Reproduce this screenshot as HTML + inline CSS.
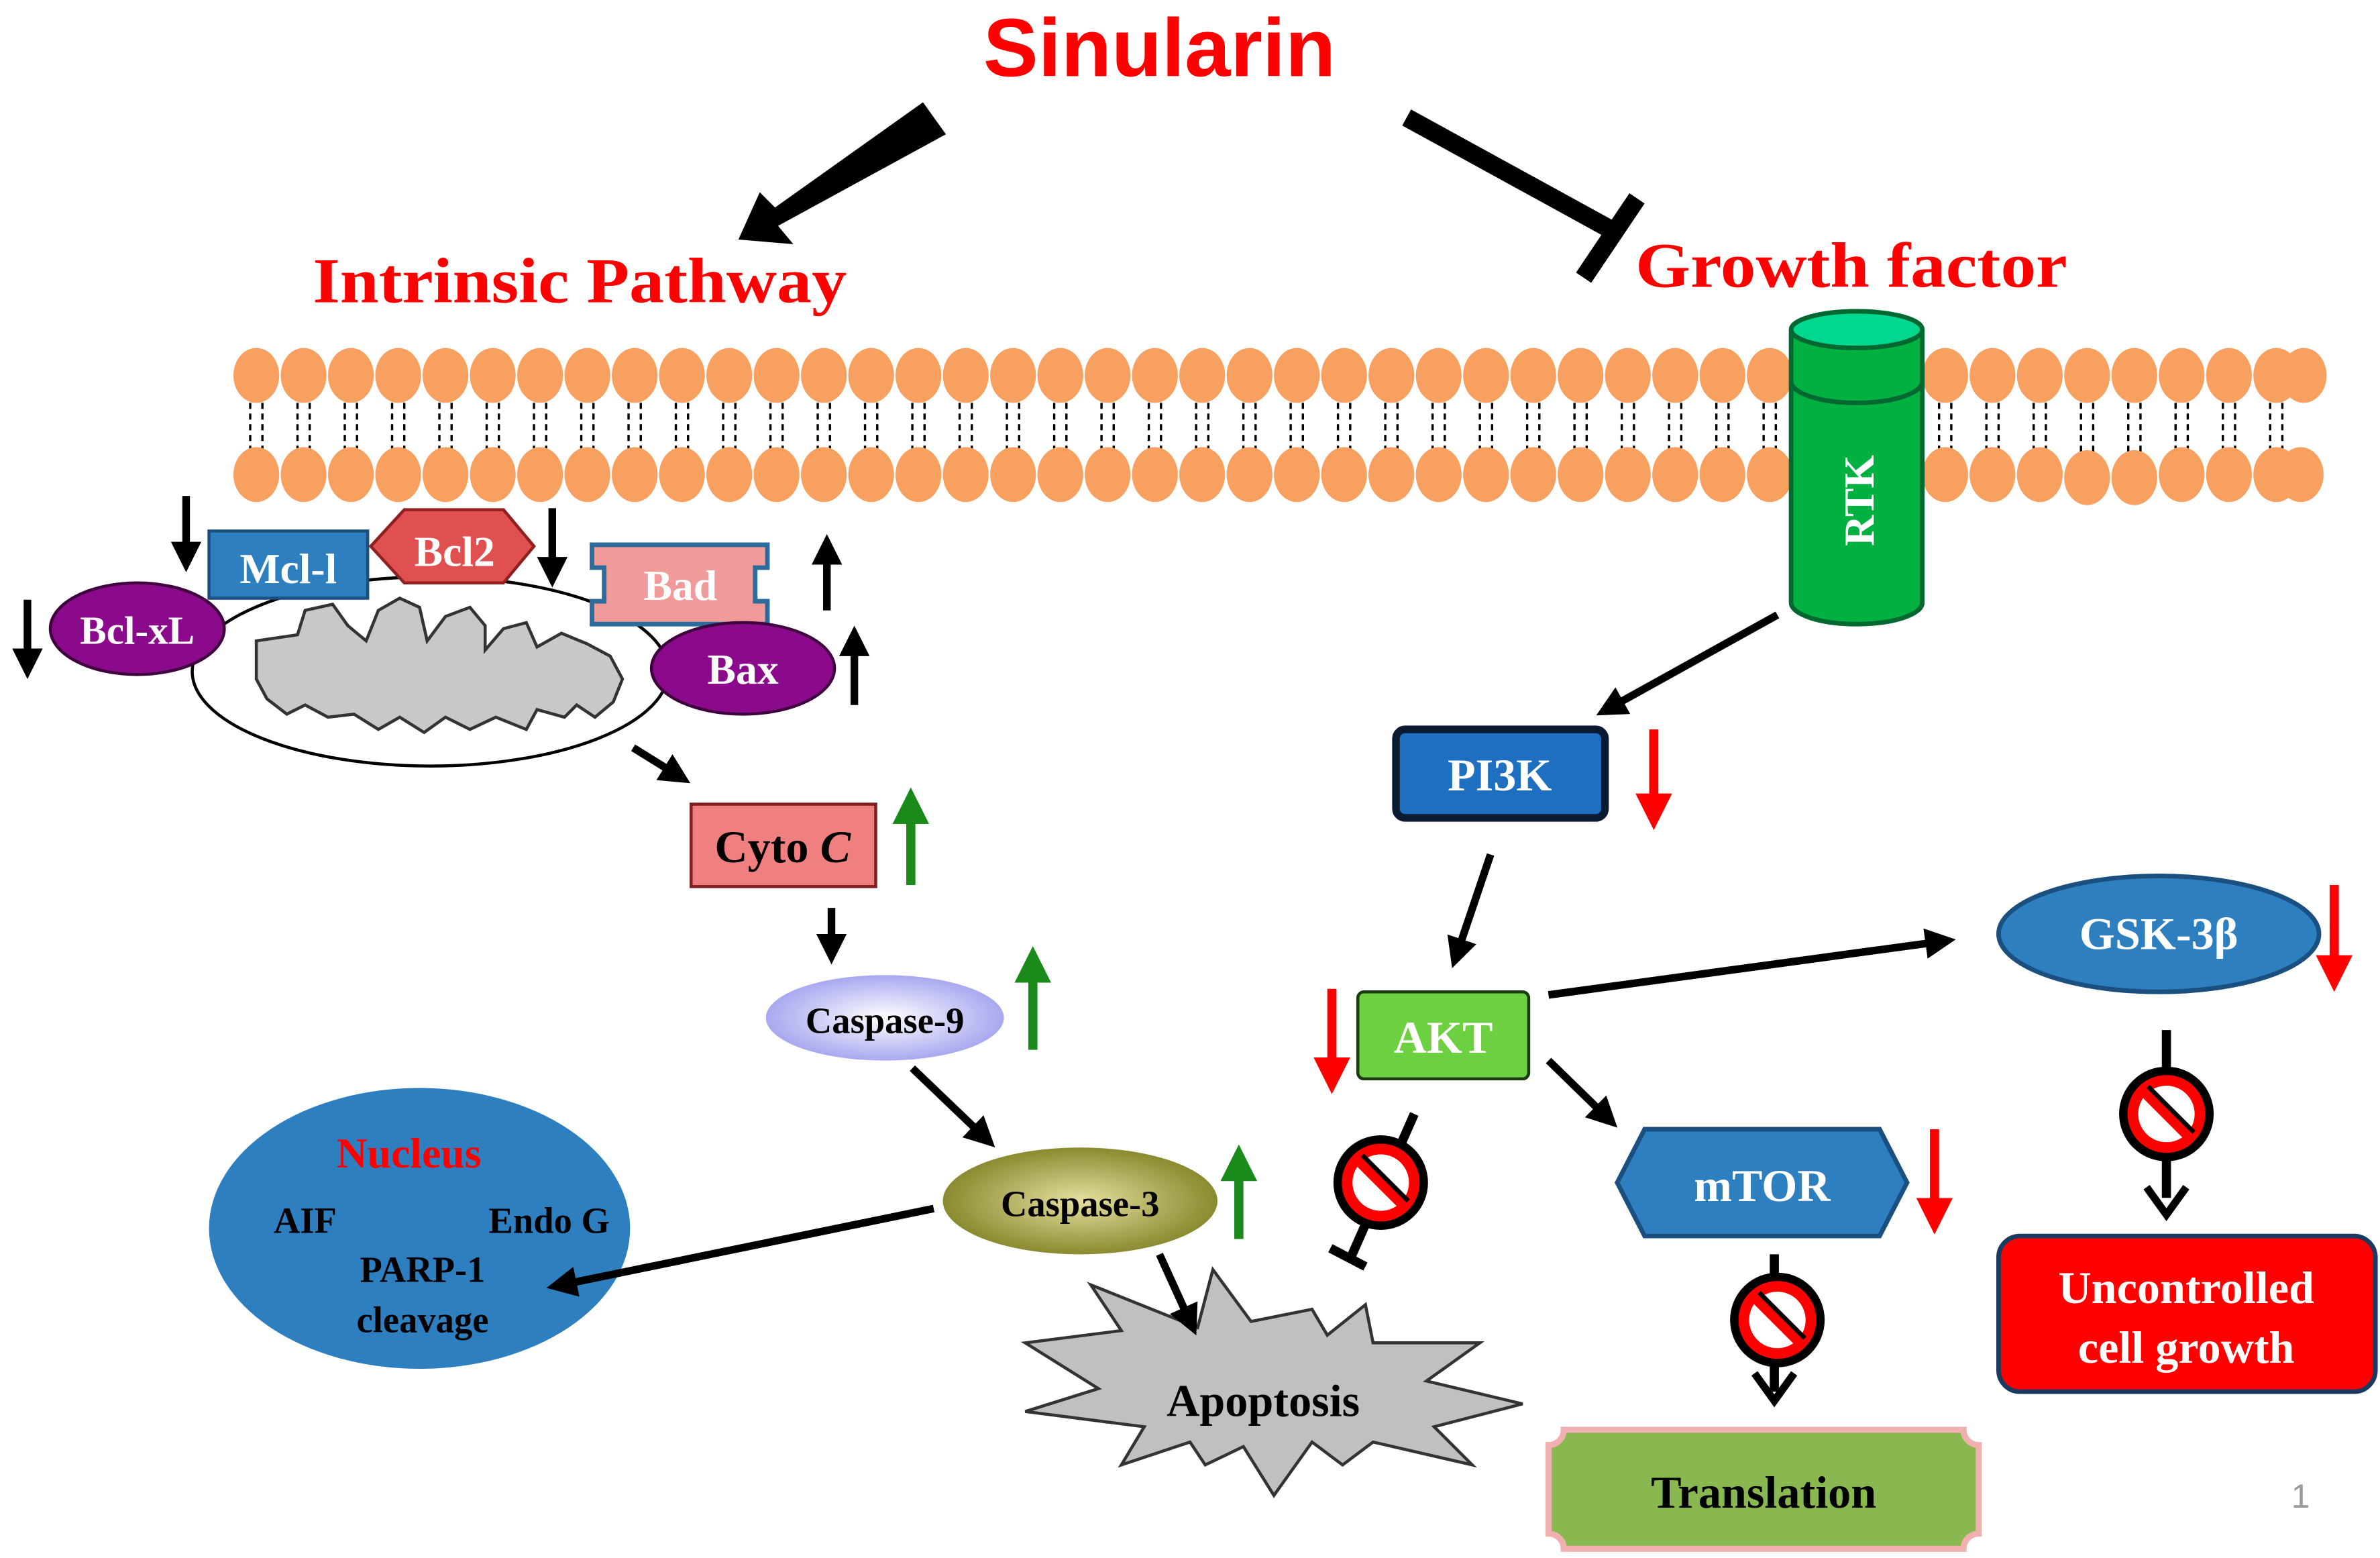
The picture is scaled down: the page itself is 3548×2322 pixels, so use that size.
<!DOCTYPE html>
<html><head><meta charset="utf-8"><style>
html,body{margin:0;padding:0;background:#fff;}
svg{display:block;}
.s{font-family:"Liberation Sans",sans-serif;font-weight:bold;}
.r{font-family:"Liberation Serif",serif;font-weight:bold;}
</style></head><body>
<svg width="3548" height="2322" viewBox="0 0 1560 1021" preserveAspectRatio="none" xmlns="http://www.w3.org/2000/svg">
<defs>
<marker id="af" markerWidth="4" markerHeight="4" refX="2" refY="2" orient="auto" markerUnits="strokeWidth"><path d="M0,0 L4,2 L0,4 z" fill="#000"/></marker>
<marker id="ag" markerWidth="4" markerHeight="4" refX="2" refY="2" orient="auto" markerUnits="strokeWidth"><path d="M0,0 L4,2 L0,4 z" fill="#1a8a1a"/></marker>
<marker id="ar" markerWidth="4" markerHeight="4" refX="2" refY="2" orient="auto" markerUnits="strokeWidth"><path d="M0,0 L4,2 L0,4 z" fill="#f00"/></marker>
<radialGradient id="c9"><stop offset="0" stop-color="#fff"/><stop offset="1" stop-color="#a8a8f0"/></radialGradient>
<radialGradient id="c3"><stop offset="0" stop-color="#e6e0a0"/><stop offset="1" stop-color="#8a8a30"/></radialGradient>
</defs>

<text x="760" y="50" text-anchor="middle" class="s" font-size="54" fill="#f00">Sinularin</text>
<polygon points="605,67 620,88 510,148 520,160 484,157 498,126 508,136" fill="#000"/>
<line x1="922" y1="77" x2="1055" y2="150" stroke="#000" stroke-width="12"/>
<line x1="1038" y1="182" x2="1073" y2="130" stroke="#000" stroke-width="12"/>
<text x="205" y="198" class="r" font-size="42" fill="#f00" textLength="350" lengthAdjust="spacingAndGlyphs">Intrinsic Pathway</text>
<text x="1072" y="188" class="r" font-size="42" fill="#f00" textLength="283" lengthAdjust="spacingAndGlyphs">Growth factor</text>

<g stroke="#000" stroke-width="1.5" stroke-dasharray="4,3">
<path d="M164,264 V296 M172,264 V296 M195,264 V296 M203,264 V296 M226,264 V296 M234,264 V296 M257,264 V296 M265,264 V296 M288,264 V296 M296,264 V296 M319,264 V296 M327,264 V296 M350,264 V296 M358,264 V296 M381,264 V296 M389,264 V296 M412,264 V296 M420,264 V296 M443,264 V296 M451,264 V296 M474,264 V296 M482,264 V296 M505,264 V296 M513,264 V296 M536,264 V296 M544,264 V296 M567,264 V296 M575,264 V296 M598,264 V296 M606,264 V296 M629,264 V296 M637,264 V296 M660,264 V296 M668,264 V296 M691,264 V296 M699,264 V296 M722,264 V296 M730,264 V296 M753,264 V296 M761,264 V296 M784,264 V296 M792,264 V296 M815,264 V296 M823,264 V296 M846,264 V296 M854,264 V296 M877,264 V296 M885,264 V296 M908,264 V296 M916,264 V296 M939,264 V296 M947,264 V296 M970,264 V296 M978,264 V296 M1001,264 V296 M1009,264 V296 M1032,264 V296 M1040,264 V296 M1063,264 V296 M1071,264 V296 M1094,264 V296 M1102,264 V296 M1125,264 V296 M1133,264 V296 M1156,264 V296 M1164,264 V296 M1271,264 V296 M1279,264 V296 M1302,264 V296 M1310,264 V296 M1333,264 V296 M1341,264 V296 M1364,264 V296 M1372,264 V296 M1395,264 V296 M1403,264 V296 M1426,264 V296 M1434,264 V296 M1457,264 V296 M1465,264 V296 M1488,264 V296 M1496,264 V296"/>
</g>
<g fill="#f8a060">
<ellipse cx="168" cy="246" rx="15" ry="18"/><ellipse cx="199" cy="246" rx="15" ry="18"/><ellipse cx="230" cy="246" rx="15" ry="18"/><ellipse cx="261" cy="246" rx="15" ry="18"/><ellipse cx="292" cy="246" rx="15" ry="18"/><ellipse cx="323" cy="246" rx="15" ry="18"/><ellipse cx="354" cy="246" rx="15" ry="18"/><ellipse cx="385" cy="246" rx="15" ry="18"/><ellipse cx="416" cy="246" rx="15" ry="18"/><ellipse cx="447" cy="246" rx="15" ry="18"/><ellipse cx="478" cy="246" rx="15" ry="18"/><ellipse cx="509" cy="246" rx="15" ry="18"/><ellipse cx="540" cy="246" rx="15" ry="18"/><ellipse cx="571" cy="246" rx="15" ry="18"/><ellipse cx="602" cy="246" rx="15" ry="18"/><ellipse cx="633" cy="246" rx="15" ry="18"/><ellipse cx="664" cy="246" rx="15" ry="18"/><ellipse cx="695" cy="246" rx="15" ry="18"/><ellipse cx="726" cy="246" rx="15" ry="18"/><ellipse cx="757" cy="246" rx="15" ry="18"/><ellipse cx="788" cy="246" rx="15" ry="18"/><ellipse cx="819" cy="246" rx="15" ry="18"/><ellipse cx="850" cy="246" rx="15" ry="18"/><ellipse cx="881" cy="246" rx="15" ry="18"/><ellipse cx="912" cy="246" rx="15" ry="18"/><ellipse cx="943" cy="246" rx="15" ry="18"/><ellipse cx="974" cy="246" rx="15" ry="18"/><ellipse cx="1005" cy="246" rx="15" ry="18"/><ellipse cx="1036" cy="246" rx="15" ry="18"/><ellipse cx="1067" cy="246" rx="15" ry="18"/><ellipse cx="1098" cy="246" rx="15" ry="18"/><ellipse cx="1129" cy="246" rx="15" ry="18"/><ellipse cx="1160" cy="246" rx="15" ry="18"/><ellipse cx="1275" cy="246" rx="15" ry="18"/><ellipse cx="1306" cy="246" rx="15" ry="18"/><ellipse cx="1337" cy="246" rx="15" ry="18"/><ellipse cx="1368" cy="246" rx="15" ry="18"/><ellipse cx="1399" cy="246" rx="15" ry="18"/><ellipse cx="1430" cy="246" rx="15" ry="18"/><ellipse cx="1461" cy="246" rx="15" ry="18"/><ellipse cx="1492" cy="246" rx="15" ry="18"/><ellipse cx="1510" cy="246" rx="15" ry="18"/>
<ellipse cx="168" cy="311" rx="15" ry="18"/><ellipse cx="199" cy="311" rx="15" ry="18"/><ellipse cx="230" cy="311" rx="15" ry="18"/><ellipse cx="261" cy="311" rx="15" ry="18"/><ellipse cx="292" cy="311" rx="15" ry="18"/><ellipse cx="323" cy="311" rx="15" ry="18"/><ellipse cx="354" cy="311" rx="15" ry="18"/><ellipse cx="385" cy="311" rx="15" ry="18"/><ellipse cx="416" cy="311" rx="15" ry="18"/><ellipse cx="447" cy="311" rx="15" ry="18"/><ellipse cx="478" cy="311" rx="15" ry="18"/><ellipse cx="509" cy="311" rx="15" ry="18"/><ellipse cx="540" cy="311" rx="15" ry="18"/><ellipse cx="571" cy="311" rx="15" ry="18"/><ellipse cx="602" cy="311" rx="15" ry="18"/><ellipse cx="633" cy="311" rx="15" ry="18"/><ellipse cx="664" cy="311" rx="15" ry="18"/><ellipse cx="695" cy="311" rx="15" ry="18"/><ellipse cx="726" cy="311" rx="15" ry="18"/><ellipse cx="757" cy="311" rx="15" ry="18"/><ellipse cx="788" cy="311" rx="15" ry="18"/><ellipse cx="819" cy="311" rx="15" ry="18"/><ellipse cx="850" cy="311" rx="15" ry="18"/><ellipse cx="881" cy="311" rx="15" ry="18"/><ellipse cx="912" cy="311" rx="15" ry="18"/><ellipse cx="943" cy="311" rx="15" ry="18"/><ellipse cx="974" cy="311" rx="15" ry="18"/><ellipse cx="1005" cy="311" rx="15" ry="18"/><ellipse cx="1036" cy="311" rx="15" ry="18"/><ellipse cx="1067" cy="311" rx="15" ry="18"/><ellipse cx="1098" cy="311" rx="15" ry="18"/><ellipse cx="1129" cy="311" rx="15" ry="18"/><ellipse cx="1160" cy="311" rx="15" ry="18"/><ellipse cx="1275" cy="311" rx="15" ry="18"/><ellipse cx="1306" cy="311" rx="15" ry="18"/><ellipse cx="1337" cy="311" rx="15" ry="18"/><ellipse cx="1368" cy="313" rx="15" ry="18"/><ellipse cx="1399" cy="313" rx="15" ry="18"/><ellipse cx="1430" cy="311" rx="15" ry="18"/><ellipse cx="1461" cy="311" rx="15" ry="18"/><ellipse cx="1492" cy="311" rx="15" ry="18"/><ellipse cx="1508" cy="311" rx="15" ry="18"/>
</g>

<path d="M1174,216 V395 A43,14 0 0 0 1260,395 V216" fill="#00b040" stroke="#006830" stroke-width="3"/>
<path d="M1174,250 A43,14 0 0 0 1260,250" fill="none" stroke="#006830" stroke-width="3"/>
<ellipse cx="1217" cy="216" rx="43" ry="12" fill="#00d890" stroke="#006830" stroke-width="3"/>
<text transform="translate(1228,328) rotate(-90)" text-anchor="middle" class="r" font-size="28" fill="#fff">RTK</text>

<ellipse cx="282" cy="440" rx="156" ry="62" fill="#fff" stroke="#000" stroke-width="2"/>
<path d="M168,420 L195,416 L200,400 L218,396 L228,410 L240,420 L248,400 L262,392 L275,398 L280,420 L292,404 L308,398 L318,410 L318,426 L330,412 L345,408 L352,424 L368,415 L385,422 L400,430 L408,445 L402,460 L390,470 L378,462 L370,470 L352,465 L345,478 L325,470 L308,478 L292,470 L278,480 L262,470 L248,478 L232,468 L215,470 L200,462 L188,468 L175,458 L168,445 Z" fill="#c8c8c8" stroke="#333" stroke-width="2"/>

<rect x="137" y="348" width="104" height="44" fill="#2e7fc0" stroke="#1a4f80" stroke-width="2"/>
<text x="189" y="382" text-anchor="middle" class="r" font-size="28" fill="#fff">Mcl-l</text>
<polygon points="243,358 265,334 330,334 350,358 330,382 265,382" fill="#e05050" stroke="#902020" stroke-width="2"/>
<text x="298" y="371" text-anchor="middle" class="r" font-size="28" fill="#fff">Bcl2</text>
<path d="M388,357 H503 V372 H495 V394 H503 V409 H388 V394 H396 V372 H388 Z" fill="#f09a9a" stroke="#2b6c9c" stroke-width="3"/>
<text x="446" y="393" text-anchor="middle" class="r" font-size="28" fill="#fff">Bad</text>
<ellipse cx="90" cy="412" rx="57" ry="30" fill="#8b0a8b" stroke="#400040" stroke-width="2"/>
<text x="90" y="422" text-anchor="middle" class="r" font-size="26" fill="#fff">Bcl-xL</text>
<ellipse cx="487" cy="438" rx="60" ry="30" fill="#8b0a8b" stroke="#400040" stroke-width="2"/>
<text x="487" y="448" text-anchor="middle" class="r" font-size="28" fill="#fff">Bax</text>

<ellipse cx="275" cy="805" rx="138" ry="92" fill="#2e7fc0"/>
<text x="268" y="765" text-anchor="middle" class="r" font-size="28" fill="#f00">Nucleus</text>
<text x="200" y="808" text-anchor="middle" class="r" font-size="24" fill="#000">AIF</text>
<text x="360" y="808" text-anchor="middle" class="r" font-size="24" fill="#000">Endo G</text>
<text x="277" y="840" text-anchor="middle" class="r" font-size="24" fill="#000">PARP-1</text>
<text x="277" y="873" text-anchor="middle" class="r" font-size="24" fill="#000">cleavage</text>

<polygon points="672,880 735,872 715,842 785,870 795,832 820,866 860,858 870,875 895,855 900,880 970,880 935,905 998,920 940,935 965,960 900,945 880,960 860,945 835,980 815,948 790,960 780,945 735,960 750,935 672,925 720,910" fill="#c0c0c0" stroke="#333" stroke-width="2"/>
<text x="828" y="928" text-anchor="middle" class="r" font-size="30" fill="#000">Apoptosis</text>

<g stroke="#000" stroke-width="5" marker-end="url(#af)">
<line x1="122" y1="325" x2="122" y2="365"/>
<line x1="18" y1="393" x2="18" y2="435"/>
<line x1="362" y1="333" x2="362" y2="375"/>
<line x1="542" y1="400" x2="542" y2="360"/>
<line x1="560" y1="462" x2="560" y2="420"/>
<line x1="545" y1="595" x2="545" y2="622"/>
<line x1="415" y1="490" x2="444" y2="508"/>
<line x1="598" y1="700" x2="645" y2="745"/>
<line x1="760" y1="822" x2="780" y2="866"/>
<line x1="612" y1="792" x2="368" y2="842"/>
<line x1="1165" y1="403" x2="1055" y2="464"/>
<line x1="977" y1="560" x2="955" y2="625"/>
<line x1="1015" y1="652" x2="1272" y2="617"/>
<line x1="1015" y1="695" x2="1053" y2="732"/>
</g>

<rect x="453" y="527" width="121" height="54" fill="#f08080" stroke="#802020" stroke-width="2"/>
<text x="513" y="565" text-anchor="middle" class="r" font-size="30" fill="#000">Cyto <tspan font-style="italic">C</tspan></text>
<ellipse cx="580" cy="667" rx="78" ry="28" fill="url(#c9)"/>
<text x="580" y="677" text-anchor="middle" class="r" font-size="24" fill="#000">Caspase-9</text>
<ellipse cx="708" cy="787" rx="90" ry="35" fill="url(#c3)"/>
<text x="708" y="797" text-anchor="middle" class="r" font-size="24" fill="#000">Caspase-3</text>

<g stroke="#1a8a1a" stroke-width="6" marker-end="url(#ag)">
<line x1="597" y1="580" x2="597" y2="528"/>
<line x1="677" y1="688" x2="677" y2="632"/>
<line x1="812" y1="812" x2="812" y2="762"/>
</g>

<rect x="915" y="478" width="137" height="58" rx="6" fill="#1f6fc0" stroke="#0a1a30" stroke-width="5"/>
<text x="983" y="518" text-anchor="middle" class="r" font-size="30" fill="#fff">PI3K</text>
<rect x="890" y="650" width="112" height="57" rx="4" fill="#6cd040" stroke="#1a3a10" stroke-width="2"/>
<text x="946" y="690" text-anchor="middle" class="r" font-size="30" fill="#fff">AKT</text>
<ellipse cx="1415" cy="612" rx="105" ry="38" fill="#2e7fc0" stroke="#1a4f80" stroke-width="3"/>
<text x="1415" y="622" text-anchor="middle" class="r" font-size="30" fill="#fff">GSK-3β</text>
<polygon points="1060,775 1078,740 1232,740 1250,775 1232,810 1078,810" fill="#2e7fc0" stroke="#1a4f80" stroke-width="3"/>
<text x="1155" y="787" text-anchor="middle" class="r" font-size="30" fill="#fff">mTOR</text>

<g stroke="#f00" stroke-width="6" marker-end="url(#ar)">
<line x1="1084" y1="478" x2="1084" y2="532"/>
<line x1="873" y1="648" x2="873" y2="705"/>
<line x1="1530" y1="580" x2="1530" y2="638"/>
<line x1="1268" y1="740" x2="1268" y2="797"/>
</g>

<g stroke="#000" stroke-width="6">
<line x1="927" y1="730" x2="885" y2="825"/>
<line x1="872" y1="818" x2="895" y2="830"/>
<line x1="1163" y1="822" x2="1163" y2="912"/>
<line x1="1420" y1="675" x2="1420" y2="785"/>
</g>
<path d="M1150,900 L1163,918 L1176,900" fill="none" stroke="#000" stroke-width="5"/>
<path d="M1407,778 L1420,796 L1433,778" fill="none" stroke="#000" stroke-width="5"/>
<g>
<circle cx="905" cy="775" r="31" fill="#000"/><circle cx="905" cy="775" r="22" fill="#fff" stroke="#f00" stroke-width="7"/><line x1="889" y1="759" x2="921" y2="791" stroke="#f00" stroke-width="7"/><line x1="893" y1="757" x2="923" y2="787" stroke="#000" stroke-width="3"/>
<circle cx="1165" cy="865" r="31" fill="#000"/><circle cx="1165" cy="865" r="22" fill="#fff" stroke="#f00" stroke-width="7"/><line x1="1149" y1="849" x2="1181" y2="881" stroke="#f00" stroke-width="7"/><line x1="1153" y1="847" x2="1183" y2="877" stroke="#000" stroke-width="3"/>
<circle cx="1420" cy="730" r="31" fill="#000"/><circle cx="1420" cy="730" r="22" fill="#fff" stroke="#f00" stroke-width="7"/><line x1="1404" y1="714" x2="1436" y2="746" stroke="#f00" stroke-width="7"/><line x1="1408" y1="712" x2="1438" y2="742" stroke="#000" stroke-width="3"/>
</g>

<rect x="1310" y="810" width="247" height="102" rx="14" fill="#f00" stroke="#1a3a60" stroke-width="3"/>
<text x="1433" y="854" text-anchor="middle" class="r" font-size="30" fill="#fff">Uncontrolled</text>
<text x="1433" y="893" text-anchor="middle" class="r" font-size="30" fill="#fff">cell growth</text>

<path d="M1025,937 H1287 A10,10 0 0 0 1297,947 V1005 A10,10 0 0 0 1287,1015 H1025 A10,10 0 0 0 1015,1005 V947 A10,10 0 0 0 1025,937 Z" fill="#8ab850" stroke="#f0b0b0" stroke-width="4"/>
<text x="1156" y="988" text-anchor="middle" class="r" font-size="30" fill="#000">Translation</text>

<text x="1508" y="988" text-anchor="middle" font-family="Liberation Sans,sans-serif" font-size="22" fill="#999">1</text>
</svg>
</body></html>
